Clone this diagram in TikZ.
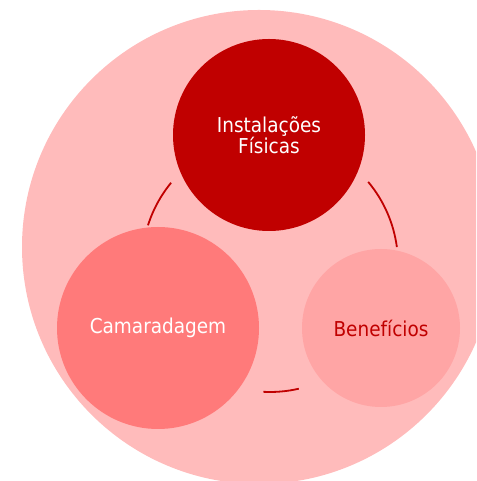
\documentclass[tikz,border=0pt]{standalone}
\usepackage{fontspec}
\setmainfont{DejaVu Sans}[FakeStretch=0.9]
\definecolor{bgpink}{RGB}{255,187,187}
\definecolor{darkred}{RGB}{192,0,0}
\definecolor{midpink}{RGB}{255,122,122}
\definecolor{softpink}{RGB}{255,165,165}
\tikzset{
  bubble/.style={circle, draw=none, inner sep=0pt, align=center, font=\fontsize{20.5}{21.5}\selectfont},
  link/.style={draw=darkred, line width=1.8pt}
}
\begin{document}
\begin{tikzpicture}[x=1pt,y=1pt]
\useasboundingbox (0,0) rectangle (476,481);
\clip (0,0) rectangle (476,481);
\node[circle, fill=bgpink, minimum size=474pt, inner sep=0pt] (outer) at (259,234) {};
\coordinate (ring) at (270,217);
\node[bubble, fill=darkred, minimum size=192pt, text=white] (inst) at (269,346) {Instalações\\Físicas};
\node[bubble, fill=midpink, minimum size=202pt, text=white] (cam) at (158,153) {Camaradagem};
\node[bubble, fill=softpink, minimum size=158pt, text=darkred] (ben) at (381,153) {Benefícios};
\draw[link] ([shift={(140.6:128)}]ring) arc[start angle=140.6, end angle=162.4, radius=128];
\draw[link] ([shift={(7.6:128)}]ring) arc[start angle=7.6, end angle=39.9, radius=128];
\draw[link] ([shift={(267:128)}]ring) arc[start angle=267, end angle=283, radius=128];
\end{tikzpicture}
\end{document}
